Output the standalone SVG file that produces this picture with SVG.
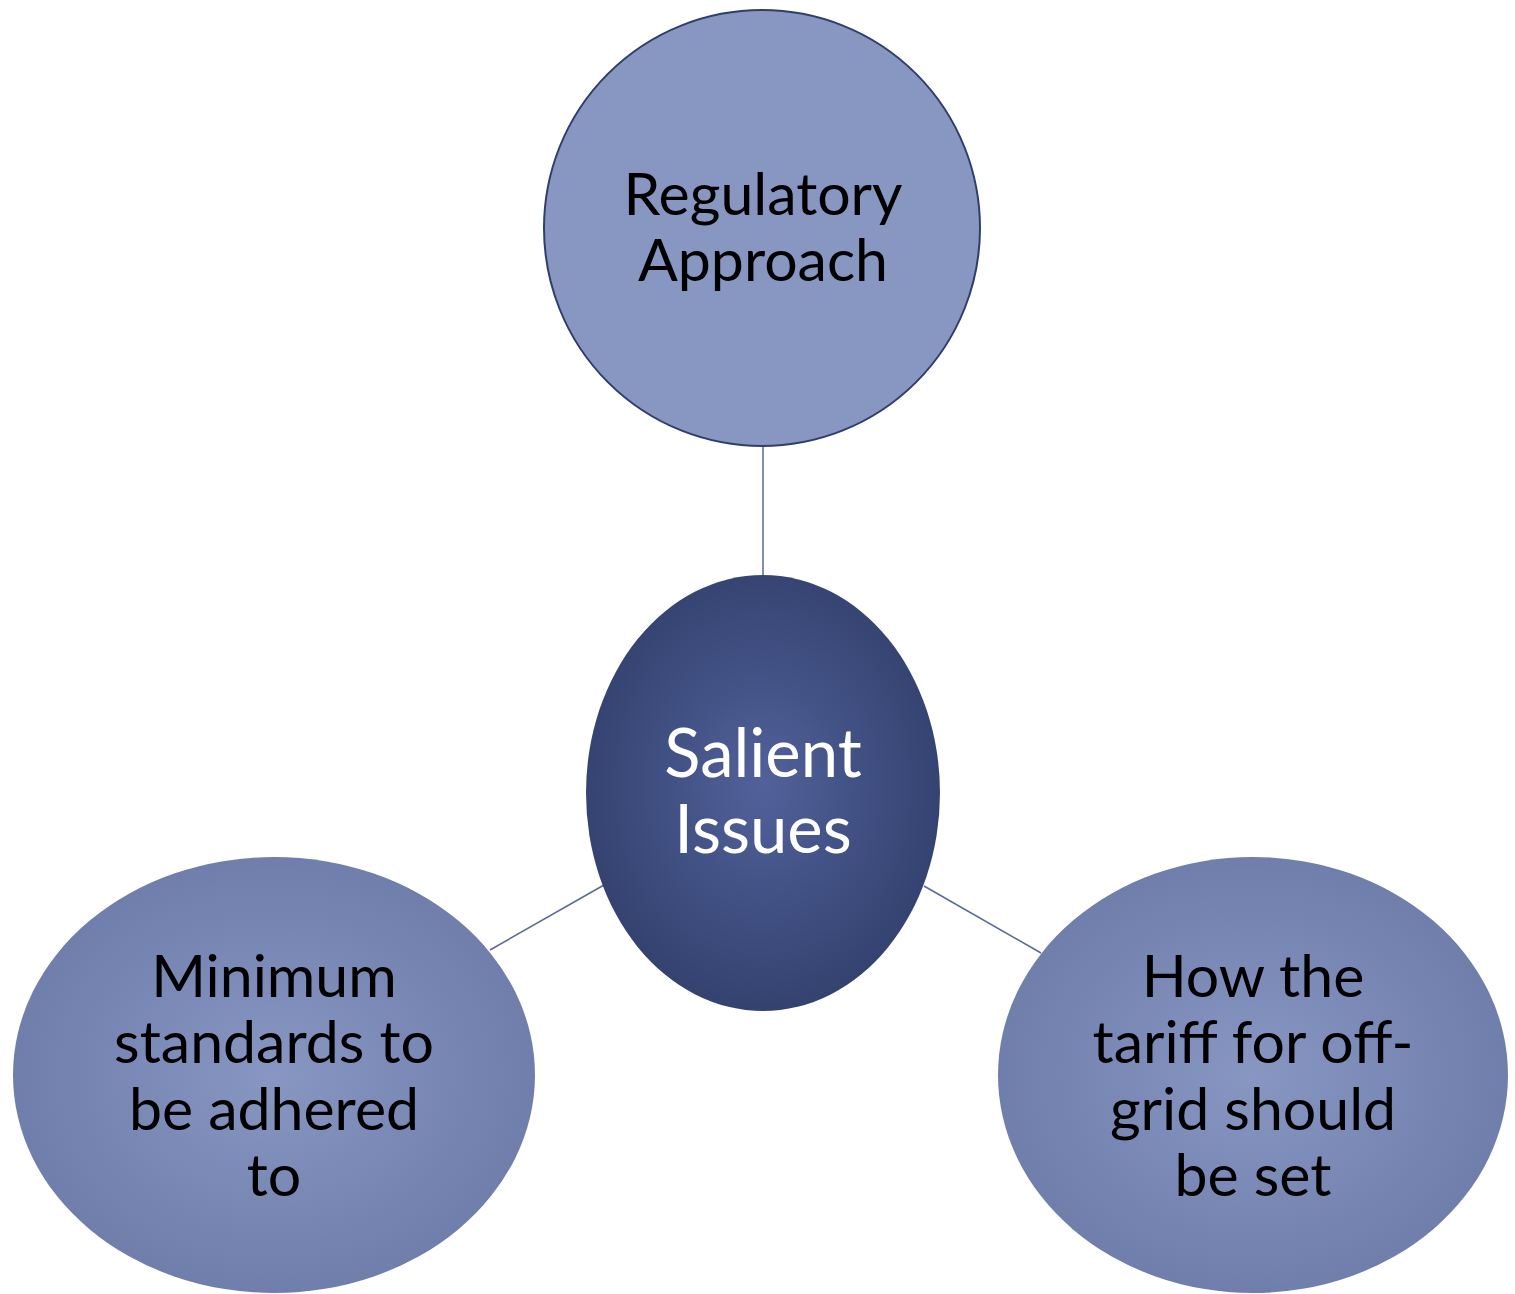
<svg xmlns="http://www.w3.org/2000/svg" width="1515" height="1294" viewBox="0 0 1515 1294">
<defs>
<radialGradient id="gOuter" cx="50%" cy="50%" r="50%">
<stop offset="0" stop-color="#8896C2"/>
<stop offset="1" stop-color="#707EAC"/>
</radialGradient>
<radialGradient id="gCenter" cx="50%" cy="48%" r="52%">
<stop offset="0" stop-color="#52619A"/>
<stop offset="1" stop-color="#33426F"/>
</radialGradient>
</defs>
<style>
.lbl{font-family:Lato,"Open Sans","Liberation Sans",sans-serif;font-size:59px;fill:#000;text-anchor:middle}
.ctr{font-family:Lato,"Open Sans","Liberation Sans",sans-serif;font-size:67px;fill:#fff;text-anchor:middle}
.con{stroke:#5A6898;stroke-width:1.5;fill:none}
</style>
<rect width="1515" height="1294" fill="#fff"/>
<g id="connectors">
<line class="con" x1="763" y1="446" x2="763" y2="576"/>
<line class="con" x1="490" y1="950" x2="604" y2="885"/>
<line class="con" x1="924" y1="886" x2="1041" y2="953"/>
</g>
<g id="node-top">
<circle cx="762" cy="228" r="218" fill="#8897C1" stroke="#2F3E6B" stroke-width="2"/>
<text class="lbl" x="763" y="215">Regulatory</text>
<text class="lbl" x="763" y="281">Approach</text>
</g>
<g id="node-left">
<ellipse cx="274" cy="1075" rx="261" ry="218" fill="url(#gOuter)"/>
<text class="lbl" x="274" y="997">Minimum</text>
<text class="lbl" x="274" y="1063">standards to</text>
<text class="lbl" x="274" y="1130">be adhered</text>
<text class="lbl" x="274" y="1196">to</text>
</g>
<g id="node-right">
<ellipse cx="1253" cy="1075" rx="255" ry="218" fill="url(#gOuter)"/>
<text class="lbl" x="1253" y="997">How the</text>
<text class="lbl" x="1253" y="1063">tariff for off-</text>
<text class="lbl" x="1253" y="1130">grid should</text>
<text class="lbl" x="1253" y="1196">be set</text>
</g>
<g id="node-center">
<ellipse cx="763" cy="793" rx="177" ry="218" fill="url(#gCenter)"/>
<text class="ctr" x="763" y="777">Salient</text>
<text class="ctr" x="763" y="853">Issues</text>
</g>
</svg>
